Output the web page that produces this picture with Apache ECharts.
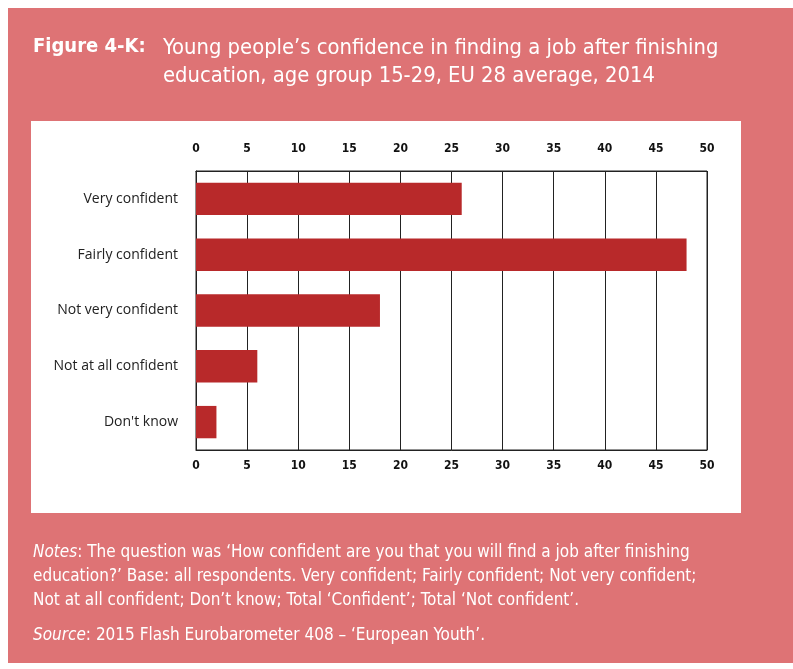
<!DOCTYPE html>
<html><head><meta charset="utf-8">
<script src="https://cdn.jsdelivr.net/npm/echarts@6/dist/echarts.min.js"></script>
<style>html,body{margin:0;padding:0;background:#fff}#c{width:793px;height:669px}</style>
</head><body><div id="c"></div>
<script>
const categories = ["Very confident", "Fairly confident", "Not very confident", "Not at all confident", "Don't know"];
const values = [26, 48, 18, 6, 2];
const axisMin = 0, axisMax = 50, axisStep = 5;
const titleLead = "Figure 4-K:";
const titleLines = ["Young people\u2019s confidence in finding a job after finishing", "education, age group 15-29, EU 28 average, 2014"];
const noteLines = [
  "The question was \u2018How confident are you that you will find a job after finishing",
  "education?\u2019 Base: all respondents. Very confident; Fairly confident; Not very confident;",
  "Not at all confident; Don\u2019t know; Total \u2018Confident\u2019; Total \u2018Not confident\u2019."
];
const sourceText = "2015 Flash Eurobarometer 408 \u2013 \u2018European Youth\u2019.";

const PINK = '#de7375', BAR = '#b8292a';
const NARROW = '"Liberation Sans Narrow", "DejaVu Sans Condensed", "Arial Narrow", sans-serif';
const chart = echarts.init(document.getElementById('c'));
const axisLabelStyle = {fontFamily: NARROW, fontWeight: 'bold', fontSize: 12, color: '#111'};
chart.setOption({
  backgroundColor: '#fff',
  animation: false,
  graphic: [
    {type: 'rect', z: -10, shape: {x: 8, y: 8, width: 790, height: 655}, style: {fill: PINK}},
    {type: 'rect', z: -9, shape: {x: 31, y: 121, width: 710, height: 392}, style: {fill: '#fff'}},
    {type: 'text', left: 33, top: 37, style: {text: titleLead, fill: '#fff', font: 'bold 20px ' + NARROW}},
    {type: 'text', left: 163, top: 37, style: {text: titleLines[0], fill: '#fff', font: '21.8px ' + NARROW}},
    {type: 'text', left: 163, top: 65, style: {text: titleLines[1], fill: '#fff', font: '21.8px ' + NARROW}},
    {type: 'text', left: 33, top: 541, style: {
      text: '{i|Notes}: ' + noteLines[0] + '\n' + noteLines[1] + '\n' + noteLines[2],
      fill: '#fff', font: '17px ' + NARROW, lineHeight: 24,
      rich: {i: {fontStyle: 'italic', fontFamily: NARROW, fontSize: 17, fill: '#fff', lineHeight: 24}}
    }},
    {type: 'text', left: 33, top: 624, style: {
      text: '{i|Source}: ' + sourceText, fill: '#fff', font: '17px ' + NARROW, lineHeight: 24,
      rich: {i: {fontStyle: 'italic', fontFamily: NARROW, fontSize: 17, fill: '#fff', lineHeight: 24}}
    }}
  ],
  grid: {left: 196, right: 86, top: 171, bottom: 219, show: true, borderColor: '#222', borderWidth: 1, backgroundColor: 'transparent'},
  xAxis: [
    {type: 'value', position: 'bottom', min: axisMin, max: axisMax, interval: axisStep,
     axisLine: {show: true, lineStyle: {color: '#222'}}, axisTick: {show: false},
     splitLine: {show: true, lineStyle: {color: '#222', width: 1}},
     axisLabel: Object.assign({margin: 10}, axisLabelStyle)},
    {type: 'value', position: 'top', min: axisMin, max: axisMax, interval: axisStep,
     axisLine: {show: true, lineStyle: {color: '#222'}}, axisTick: {show: false},
     splitLine: {show: false},
     axisLabel: Object.assign({margin: 16}, axisLabelStyle)}
  ],
  yAxis: {type: 'category', data: categories, inverse: true,
    axisLine: {show: true, lineStyle: {color: '#222'}}, axisTick: {show: false},
    axisLabel: {margin: 18, fontFamily: '"Open Sans", sans-serif', fontSize: 14, color: '#222'}},
  series: [{type: 'bar', data: values, xAxisIndex: 0, barCategoryGap: '42%', itemStyle: {color: BAR}}]
});
</script></body></html>
